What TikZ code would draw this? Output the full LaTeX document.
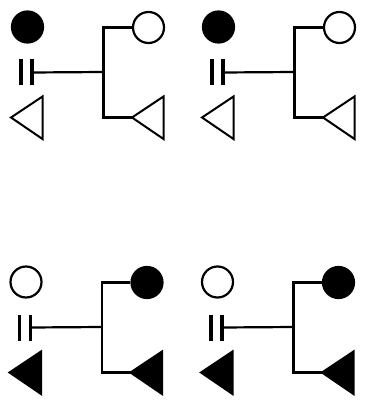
\documentclass[tikz,border=0pt]{standalone}
\usetikzlibrary{calc}
\tikzset{
  dot/.style={circle, draw=black, line width=2.2pt, minimum size=31pt, inner sep=0pt},
  barnode/.style={rectangle, fill=black, draw=none, minimum width=3.6pt, minimum height=26pt, inner sep=0pt},
  wire/.style={line width=2.2pt, line join=miter},
  tri/.style={draw=black, line width=2pt, line join=miter}
}
\newcommand{\drawpanel}[6]{%
  \begin{scope}[shift={(#2,#3)}]
    \node[dot, fill=#4] (#1lc) at (27.5,27) {};
    \node[dot, fill=#5] (#1rc) at (148.5,27.5) {};
    \node[barnode] (#1ba) at (21,72.5) {};
    \node[barnode] (#1bb) at (32,72.5) {};
    \coordinate (#1j) at (103.5,72);
    \coordinate (#1jb) at (103.5,117.5);
    \draw[tri, fill=#6] (11,117.5) coordinate (#1lt) -- (42.5,96.5) -- (42.5,139) -- cycle;
    \draw[tri, fill=#6] (132,117.5) coordinate (#1rt) -- (163.5,96.5) -- (163.5,139) -- cycle;
    \draw[wire] (#1bb.center) -- (#1j);
    \draw[wire] (#1rc.west) -| (#1jb) -- (#1rt);
  \end{scope}}
\begin{document}
\begin{tikzpicture}[x=1pt, y=-1pt]
  \useasboundingbox (0,0) rectangle (366,409);
  \drawpanel{a}{0}{0}{black}{white}{white}
  \drawpanel{b}{191}{0}{black}{white}{white}
  \drawpanel{c}{-1.5}{255}{white}{black}{black}
  \drawpanel{d}{190}{255}{white}{black}{black}
\end{tikzpicture}
\end{document}
